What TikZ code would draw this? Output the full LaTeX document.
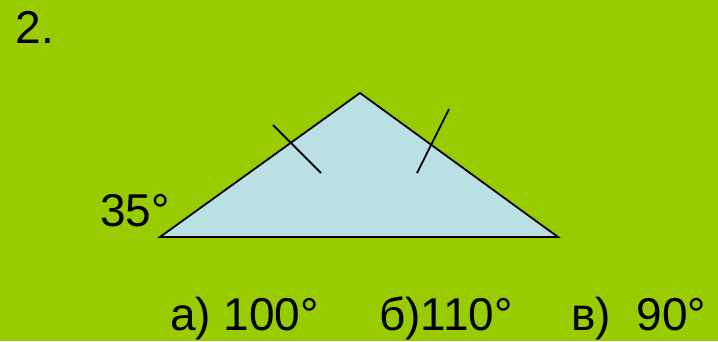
\documentclass[tikz,border=0pt]{standalone}
\usepackage{fontspec}
\setmainfont{Liberation Sans}
\usetikzlibrary{positioning}
\definecolor{slidegreen}{RGB}{153,204,0}
\definecolor{trifill}  {RGB}{187,224,228}

\begin{document}
\begin{tikzpicture}[
  x=1pt,y=-1pt,
  big/.style={font=\fontsize{46}{55}\selectfont,inner sep=0pt,anchor=base west},
  side/.style={line width=1.8pt,line join=miter},
  tick/.style={line width=1.8pt},
]

%% ── Background ──────────────────────────────────────────────────────────────
\fill[slidegreen] (0,0) rectangle (718,341);
\useasboundingbox (0,0) rectangle (718,341);

%% ── Number of the task ──────────────────────────────────────────────────────
\node[big] (num) at (15.5,43) {2.};

%% ── Triangle ────────────────────────────────────────────────────────────────
\coordinate (A) at (160,237);
\coordinate (B) at (360,93);
\coordinate (C) at (558,237);
\filldraw[side,fill=trifill] (A) -- (B) -- (C) -- cycle;

%% ── Equal-side marks ────────────────────────────────────────────────────────
\draw[tick] (273,125) -- (321,173);
\draw[tick] (449,109) -- (417,173);

%% ── Angle label ─────────────────────────────────────────────────────────────
\node[big] (ang) at (100,226) {35°};

%% ── Answers ─────────────────────────────────────────────────────────────────
\node[big] (ansA) at (170,330) {а) 100°};
\node[big] (ansB) at (379,330) {б)110°};
\node[big] (ansC) at (571,330) {в)\ \ 90°};

\end{tikzpicture}
\end{document}
